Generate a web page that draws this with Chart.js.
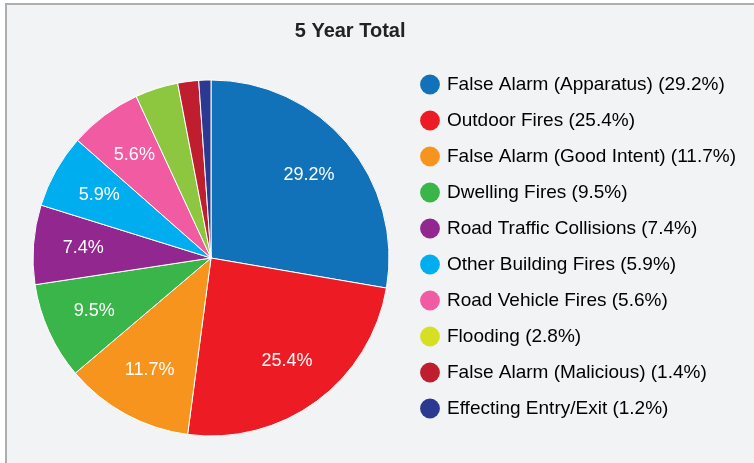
<!DOCTYPE html>
<html lang="en">
<head>
    <meta charset="UTF-8">
    <title>5 Year Total</title>
    <style>
        body {
            margin: 0;
            background: #fff;
            overflow: hidden;
        }
        .frame {
            position: absolute;
            left: 5px;
            top: 3px;
            width: 800px;
            height: 500px;
            border-left: 2px solid #aeaeae;
            border-top: 2px solid #aeaeae;
            background: #f2f3f5;
        }
        #pieChart {
            position: absolute;
            left: 0;
            top: 0;
        }
    </style>
</head>
<body>
<div class="frame"></div>
<canvas id="pieChart" width="754" height="463"></canvas>

<script src="https://cdn.jsdelivr.net/npm/chart.js"></script>
<script>
    // данные
    var chartTitle = '5 Year Total';
    var categories = [
        'False Alarm (Apparatus)',
        'Outdoor Fires',
        'False Alarm (Good Intent)',
        'Dwelling Fires',
        'Road Traffic Collisions',
        'Other Building Fires',
        'Road Vehicle Fires',
        'Flooding',
        'False Alarm (Malicious)',
        'Effecting Entry/Exit'
    ];
    // размеры секторов, как они нарисованы на картинке
    var sliceValues = [27.7, 24.4, 11.7, 8.8, 7.2, 6.7, 6.6, 3.9, 1.9, 1.1];
    // проценты из подписей и легенды
    var percents = [29.2, 25.4, 11.7, 9.5, 7.4, 5.9, 5.6, 2.8, 1.4, 1.2];
    var sliceColors = ['#1172ba', '#ed1c24', '#f7941d', '#39b54a', '#92278f',
                       '#00aeef', '#f05ba1', '#8dc63f', '#be1e2d', '#2b3990'];
    var legendColors = ['#1172ba', '#ed1c24', '#f7941d', '#39b54a', '#92278f',
                        '#00aeef', '#f05ba1', '#d7df23', '#be1e2d', '#2b3990'];

    var fontName = '"Liberation Sans", Arial, Helvetica, sans-serif';

    // подписи процентов внутри секторов
    var sliceLabels = {
        id: 'sliceLabels',
        afterDatasetsDraw: function(chart) {
            var ctx = chart.ctx;
            var meta = chart.getDatasetMeta(0);
            ctx.save();
            ctx.fillStyle = '#fff';
            ctx.font = '18px ' + fontName;
            ctx.textAlign = 'center';
            ctx.textBaseline = 'middle';
            meta.data.forEach(function(arc, i) {
                if (percents[i] < 5) return;
                var p = arc.getProps(['x', 'y', 'startAngle', 'endAngle', 'outerRadius'], true);
                var mid = (p.startAngle + p.endAngle) / 2;
                var r = p.outerRadius * 0.72;
                ctx.fillText(percents[i].toFixed(1) + '%', p.x + Math.cos(mid) * r, p.y + Math.sin(mid) * r);
            });
            ctx.restore();
        }
    };

    var ctx = document.getElementById('pieChart').getContext('2d');
    var myChart = new Chart(ctx, {
        type: 'pie',
        data: {
            labels: categories,
            datasets: [{
                data: sliceValues,
                backgroundColor: sliceColors,
                borderColor: '#fff',
                borderWidth: 1,
                radius: 178
            }]
        },
        options: {
            responsive: false,
            animation: false,
            layout: {
                padding: { left: 16.5, right: 12.5, top: 0, bottom: 5 }
            },
            plugins: {
                title: {
                    display: true,
                    text: chartTitle,
                    align: 'end',
                    fullSize: false,
                    color: '#222',
                    font: { family: fontName, size: 20, weight: 'bold', lineHeight: 1.2 },
                    padding: { top: 19.5, bottom: 14.5 }
                },
                legend: {
                    position: 'right',
                    align: 'start',
                    fullSize: false,
                    maxWidth: 336,
                    labels: {
                        usePointStyle: true,
                        pointStyle: 'circle',
                        boxWidth: 15,
                        boxHeight: 14,
                        padding: 17,
                        color: '#222',
                        font: { family: fontName, size: 19 },
                        generateLabels: function(chart) {
                            return categories.map(function(name, i) {
                                return {
                                    text: name + ' (' + percents[i].toFixed(1) + '%)',
                                    fillStyle: legendColors[i],
                                    strokeStyle: legendColors[i],
                                    lineWidth: 0,
                                    pointStyle: 'circle',
                                    hidden: false,
                                    index: i
                                };
                            });
                        }
                    }
                },
                tooltip: { enabled: false }
            }
        },
        plugins: [sliceLabels]
    });
</script>
</body>
</html>
